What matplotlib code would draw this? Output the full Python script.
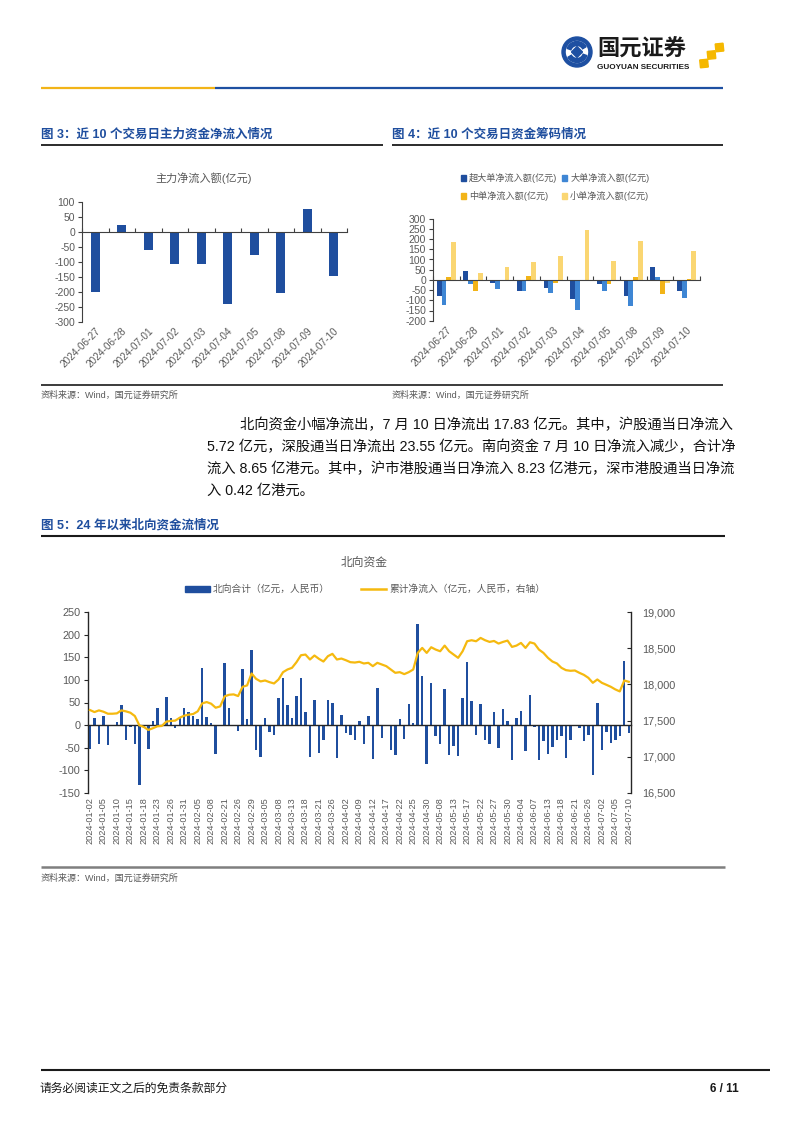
import numpy as np
import matplotlib
matplotlib.use('Agg')
import matplotlib.pyplot as plt
from matplotlib.lines import Line2D
from matplotlib.patches import Patch, Circle, Wedge, Polygon
from matplotlib.ticker import FuncFormatter, MultipleLocator

plt.rcParams['font.family'] = ['Liberation Sans', 'Noto Sans CJK SC', 'DejaVu Sans']
plt.rcParams['axes.unicode_minus'] = False

# ---------------- data ----------------
fig3_dates = ['2024-06-27', '2024-06-28', '2024-07-01', '2024-07-02', '2024-07-03',
              '2024-07-04', '2024-07-05', '2024-07-08', '2024-07-09', '2024-07-10']
main_flow = [-200, 22, -62, -107, -106, -242, -78, -205, 77, -146]

super_large = [-78, 44, -17, -55, -40, -96, -22, -79, 64, -56]
large_flow = [-122, -22, -45, -53, -66, -146, -56, -126, 13, -90]
medium_flow = [14, -56, -2, 20, -15, -3, -22, 12, -67, 3]
small_flow = [186, 34, 64, 86, 117, 244, 95, 190, -15, 140]
fig4_labels = ['超大单净流入额(亿元)', '大单净流入额(亿元)', '中单净流入额(亿元)', '小单净流入额(亿元)']

nb_dates = [
    '2024-01-02', '2024-01-03', '2024-01-04', '2024-01-05', '2024-01-08', '2024-01-09', '2024-01-10',
    '2024-01-11', '2024-01-12', '2024-01-15', '2024-01-16', '2024-01-17', '2024-01-18', '2024-01-19',
    '2024-01-22', '2024-01-23', '2024-01-24', '2024-01-25', '2024-01-26', '2024-01-29', '2024-01-30',
    '2024-01-31', '2024-02-01', '2024-02-02', '2024-02-05', '2024-02-06', '2024-02-07', '2024-02-08',
    '2024-02-19', '2024-02-20', '2024-02-21', '2024-02-22', '2024-02-23', '2024-02-26', '2024-02-27',
    '2024-02-28', '2024-02-29', '2024-03-01', '2024-03-04', '2024-03-05', '2024-03-06', '2024-03-07',
    '2024-03-08', '2024-03-11', '2024-03-12', '2024-03-13', '2024-03-14', '2024-03-15', '2024-03-18',
    '2024-03-19', '2024-03-20', '2024-03-21', '2024-03-22', '2024-03-25', '2024-03-26', '2024-03-27',
    '2024-03-28', '2024-04-02', '2024-04-03', '2024-04-08', '2024-04-09', '2024-04-10', '2024-04-11',
    '2024-04-12', '2024-04-15', '2024-04-16', '2024-04-17', '2024-04-18', '2024-04-19', '2024-04-22',
    '2024-04-23', '2024-04-24', '2024-04-25', '2024-04-26', '2024-04-29', '2024-04-30', '2024-05-06',
    '2024-05-07', '2024-05-08', '2024-05-09', '2024-05-10', '2024-05-13', '2024-05-14', '2024-05-16',
    '2024-05-17', '2024-05-20', '2024-05-21', '2024-05-22', '2024-05-23', '2024-05-24', '2024-05-27',
    '2024-05-28', '2024-05-29', '2024-05-30', '2024-05-31', '2024-06-03', '2024-06-04', '2024-06-05',
    '2024-06-06', '2024-06-07', '2024-06-11', '2024-06-12', '2024-06-13', '2024-06-14', '2024-06-17',
    '2024-06-18', '2024-06-19', '2024-06-20', '2024-06-21', '2024-06-24', '2024-06-25', '2024-06-26',
    '2024-06-27', '2024-06-28', '2024-07-02', '2024-07-03', '2024-07-04', '2024-07-05', '2024-07-08',
    '2024-07-09', '2024-07-10']

nb_flow = [
    -53, 16, -41, 20, -45, 1, 7, 44, -32, -4,
    -41, -132, -6, -53, 10, 38, -2, 62, 15, -7,
    17, 37, 28, 21, 13, 126, 17, 4, -64, -2,
    137, 37, -3, -13, 124, 13, 166, -54, -71, 16,
    -15, -22, 61, 104, 44, 16, 64, 104, 29, -71,
    56, -62, -32, 56, 48, -72, 23, -17, -22, -32,
    10, -41, 20, -75, 81, -29, -3, -54, -66, 13,
    -30, 47, 4, 224, 108, -87, 94, -23, -41, 80,
    -66, -47, -68, 60, 139, 53, -21, 47, -33, -41,
    28, -51, 35, 10, -78, 15, 32, -58, 67, -4,
    -76, -35, -64, -48, -33, -24, -72, -33, 1, -6,
    -35, -21, -110, 50, -55, -16, -40, -32, -24, 141,
    -18]

nb_cum = [
    17646, 17618, 17641, 17623, 17595, 17595, 17600, 17641, 17628, 17609,
    17563, 17435, 17412, 17371, 17394, 17421, 17426, 17486, 17495, 17500,
    17540, 17568, 17582, 17591, 17628, 17738, 17756, 17733, 17678, 17696,
    17835, 17857, 17862, 17839, 17967, 17986, 18151, 18077, 18041, 18054,
    18031, 18013, 18068, 18169, 18206, 18229, 18307, 18403, 18412, 18344,
    18399, 18353, 18316, 18390, 18422, 18344, 18357, 18334, 18307, 18302,
    18312, 18289, 18298, 18252, 18298, 18275, 18252, 18206, 18160, 18169,
    18142, 18169, 18206, 18435, 18504, 18435, 18513, 18481, 18458, 18536,
    18458, 18412, 18367, 18458, 18596, 18610, 18596, 18642, 18610, 18587,
    18600, 18564, 18587, 18605, 18518, 18536, 18573, 18504, 18582, 18564,
    18481, 18435, 18367, 18316, 18289, 18229, 18197, 18188, 18192, 18160,
    18132, 18091, 18022, 18068, 18022, 17995, 17967, 17931, 17903, 18054,
    18036]

para_lines = [
    '北向资金小幅净流出，7 月 10 日净流出 17.83 亿元。其中，沪股通当日净流入',
    '5.72 亿元，深股通当日净流出 23.55 亿元。南向资金 7 月 10 日净流入减少，合计净',
    '流入 8.65 亿港元。其中，沪市港股通当日净流入 8.23 亿港元，深市港股通当日净流',
    '入 0.42 亿港元。',
]

# ---------------- colours ----------------
BLUE = '#1F4E9E'
BLUE2 = '#3E86D4'
GOLD = '#F2B418'
PALE = '#FAD672'
LINEC = '#F5B90F'
GRAY = '#595959'
TITLEC = '#1F4E9E'

W, H = 802, 1133
fig = plt.figure(figsize=(W / 100, H / 100), dpi=100)


def add_ax(x0, y0, x1, y1):
    return fig.add_axes([x0 / W, 1 - y1 / H, (x1 - x0) / W, (y1 - y0) / H])


def hline(x0, x1, y, color, lw):
    fig.add_artist(Line2D([x0 / W, x1 / W], [1 - y / H, 1 - y / H],
                          transform=fig.transFigure, color=color, lw=lw,
                          solid_capstyle='butt'))


def ftext(x, y, s, **kw):
    kw.setdefault('va', 'center')
    fig.text(x / W, 1 - y / H, s, **kw)


# ---------------- header / logo ----------------
axl = add_ax(540, 28, 740, 82)
axl.set_xlim(540, 740)
axl.set_ylim(82, 28)
axl.axis('off')
axl.add_patch(Circle((577, 52), 15, color='#1E50A2'))
axl.add_patch(Circle((577, 52), 10.5, color='white'))
axl.add_patch(Wedge((577, 52), 10.5, 200, 330, width=4, color='#1E50A2'))
axl.add_patch(Wedge((577, 52), 10.5, 20, 150, width=4, color='#1E50A2'))
axl.add_patch(Polygon([(577, 46.5), (582.5, 52), (577, 57.5), (571.5, 52)], color='#1E50A2'))
axl.text(597, 49, '国元证券', fontsize=16, fontweight='bold', color='#1a1a1a',
         va='center', ha='left', family=['Noto Sans CJK SC'])
axl.text(597, 67.5, 'GUOYUAN SECURITIES', fontsize=5.9, fontweight='bold', color='#1a1a1a',
         va='center', ha='left')
for cx, cy in [(719.5, 47.5), (711.5, 55), (704, 63.5)]:
    s = 4.3
    axl.add_patch(Polygon([(cx - s, cy - s + 0.8), (cx + s - 0.8, cy - s), (cx + s, cy + s - 0.8),
                           (cx - s + 0.8, cy + s)], color='#F5B800'))

hline(41, 215, 87.7, '#F2B418', 1.6)
hline(215, 723, 87.7, '#1E50A2', 1.6)

# ---------------- section titles ----------------
ftext(41, 134, '图 3：近 10 个交易日主力资金净流入情况', fontsize=9, fontweight='bold', color=TITLEC)
ftext(392, 134, '图 4：近 10 个交易日资金筹码情况', fontsize=9, fontweight='bold', color=TITLEC)
hline(41, 383, 145, '#1a1a1a', 1.3)
hline(392, 723, 145, '#1a1a1a', 1.3)

# ---------------- figure 3 ----------------
x10 = np.arange(len(fig3_dates))
ftext(204, 178, '主力净流入额(亿元)', fontsize=8, color=GRAY, ha='center')
ax3 = add_ax(82, 202, 347, 321.7)
ax3.bar(x10, main_flow, width=0.35, color=BLUE, zorder=2)
ax3.set_xlim(-0.5, 9.5)
ax3.set_ylim(-300, 100)
ax3.yaxis.set_major_locator(MultipleLocator(50))
for sp in ['top', 'right']:
    ax3.spines[sp].set_visible(False)
ax3.spines['left'].set_color('#404040')
ax3.spines['left'].set_linewidth(0.8)
ax3.spines['bottom'].set_position(('data', 0))
ax3.spines['bottom'].set_color('#404040')
ax3.spines['bottom'].set_linewidth(0.8)
ax3.spines['bottom'].set_zorder(3)
ax3.set_xticks(np.arange(-0.5, 10, 1))
ax3.set_xticklabels([])
ax3.tick_params(axis='x', direction='in', length=3, color='#404040')
ax3.tick_params(axis='y', direction='out', length=3, color='#404040', labelsize=7.5,
                labelcolor=GRAY, pad=2)
sec3 = ax3.secondary_xaxis(0)
sec3.set_ticks(x10, labels=fig3_dates)
sec3.tick_params(length=0, pad=3, labelsize=7.2, labelcolor=GRAY)
for t in sec3.get_xticklabels():
    t.set_rotation(45)
    t.set_ha('right')
    t.set_va('top')
    t.set_rotation_mode('anchor')
sec3.spines['bottom'].set_visible(False)

# ---------------- figure 4 ----------------
ax4 = add_ax(433, 218.7, 700, 320.7)
bw = 0.18
series4 = [super_large, large_flow, medium_flow, small_flow]
colors4 = [BLUE, BLUE2, GOLD, PALE]
for k, (vals, col) in enumerate(zip(series4, colors4)):
    ax4.bar(x10 + (k - 1.5) * bw, vals, width=bw, color=col, zorder=2)
ax4.set_xlim(-0.5, 9.5)
ax4.set_ylim(-200, 300)
ax4.yaxis.set_major_locator(MultipleLocator(50))
for sp in ['top', 'right']:
    ax4.spines[sp].set_visible(False)
ax4.spines['left'].set_color('#404040')
ax4.spines['left'].set_linewidth(0.8)
ax4.spines['bottom'].set_position(('data', 0))
ax4.spines['bottom'].set_color('#404040')
ax4.spines['bottom'].set_linewidth(0.8)
ax4.spines['bottom'].set_zorder(3)
ax4.set_xticks(np.arange(-0.5, 10, 1))
ax4.set_xticklabels([])
ax4.tick_params(axis='x', direction='in', length=3, color='#404040')
ax4.tick_params(axis='y', direction='out', length=3, color='#404040', labelsize=7.5,
                labelcolor=GRAY, pad=2)
sec4 = ax4.secondary_xaxis(0)
sec4.set_ticks(x10, labels=fig3_dates)
sec4.tick_params(length=0, pad=3, labelsize=7.2, labelcolor=GRAY)
for t in sec4.get_xticklabels():
    t.set_rotation(45)
    t.set_ha('right')
    t.set_va('top')
    t.set_rotation_mode('anchor')
sec4.spines['bottom'].set_visible(False)
handles4 = [Patch(color=c) for c in colors4]
order = [0, 2, 1, 3]
ax4.legend([handles4[i] for i in order], [fig4_labels[i] for i in order], ncol=2,
           loc='center', bbox_to_anchor=(0.457, 1.31), frameon=False, fontsize=6.6,
           handlelength=0.6, handleheight=0.6, handletextpad=0.3, columnspacing=0.5,
           labelspacing=0.9, labelcolor=GRAY, borderaxespad=0)

# ---------------- source line ----------------
hline(41, 723, 385, '#1a1a1a', 1.2)
ftext(41, 395, '资料来源：Wind，国元证券研究所', fontsize=6.5, color=GRAY)
ftext(392, 395, '资料来源：Wind，国元证券研究所', fontsize=6.5, color=GRAY)

# ---------------- paragraph ----------------
para_x = [240, 207, 207, 207]
para_y = [425, 447, 469, 491]
for s, px, py in zip(para_lines, para_x, para_y):
    ftext(px, py, s, fontsize=10.3, color='#111111')

# ---------------- figure 5 ----------------
ftext(41, 525, '图 5：24 年以来北向资金流情况', fontsize=9, fontweight='bold', color=TITLEC)
hline(41, 725, 535.5, '#1a1a1a', 1.5)
ftext(364, 563, '北向资金', fontsize=8.5, color=GRAY, ha='center')

idx = np.arange(len(nb_dates))
ax5 = add_ax(87.7, 612, 631, 793)
ax5.bar(idx, nb_flow, width=0.55, color=BLUE, zorder=2)
ax5.set_xlim(-0.5, len(nb_dates) - 0.5)
ax5.set_ylim(-150, 250)
ax5.yaxis.set_major_locator(MultipleLocator(50))
for sp in ['top', 'right']:
    ax5.spines[sp].set_visible(False)
ax5.spines['left'].set_color('#262626')
ax5.spines['left'].set_linewidth(1.0)
ax5.spines['bottom'].set_position(('data', 0))
ax5.spines['bottom'].set_color('#262626')
ax5.spines['bottom'].set_linewidth(1.0)
ax5.spines['bottom'].set_zorder(3)
ax5.set_xticks([])
ax5.tick_params(axis='y', direction='out', length=3, color='#262626', labelsize=7.8,
                labelcolor=GRAY, pad=2)
sec5 = ax5.secondary_xaxis(0)
sec5.set_ticks(idx[::3], labels=nb_dates[::3])
sec5.tick_params(length=0, pad=3, labelsize=6.6, labelcolor=GRAY)
for t in sec5.get_xticklabels():
    t.set_rotation(90)
    t.set_va('top')
    t.set_ha('center')
sec5.spines['bottom'].set_visible(False)

ax5b = ax5.twinx()
ax5b.plot(idx, nb_cum, color=LINEC, lw=1.6, zorder=4)
ax5b.set_ylim(16500, 19000)
ax5b.yaxis.set_major_locator(MultipleLocator(500))
ax5b.yaxis.set_major_formatter(FuncFormatter(lambda v, p: f'{int(v):,}'))
for sp in ['top', 'bottom', 'left']:
    ax5b.spines[sp].set_visible(False)
ax5b.spines['right'].set_color('#262626')
ax5b.spines['right'].set_linewidth(1.0)
ax5b.tick_params(axis='y', direction='in', length=3, color='#262626', labelsize=7.8,
                 labelcolor=GRAY, pad=8)

h_bar = Patch(color=BLUE)
h_line = Line2D([0], [0], color=LINEC, lw=1.8)
ax5.legend([h_bar, h_line], ['北向合计（亿元，人民币）', '累计净流入（亿元，人民币，右轴）'],
           ncol=2, loc='center', bbox_to_anchor=(0.51, 1.127), frameon=False, fontsize=7,
           handlelength=2.6, handleheight=0.55, handletextpad=0.3, columnspacing=3.2,
           labelcolor=GRAY, borderaxespad=0)

hline(41, 725, 867, '#7F7F7F', 1.8)
ftext(41, 878, '资料来源：Wind，国元证券研究所', fontsize=6.5, color=GRAY)

# ---------------- footer ----------------
hline(41, 770, 1070, '#1a1a1a', 1.5)
ftext(39, 1089, '请务必阅读正文之后的免责条款部分', fontsize=8.5, color='#1a1a1a')
ftext(739, 1089, '6 / 11', fontsize=8.5, fontweight='bold', color='#1a1a1a', ha='right')

fig.savefig('out.png', dpi=100)
